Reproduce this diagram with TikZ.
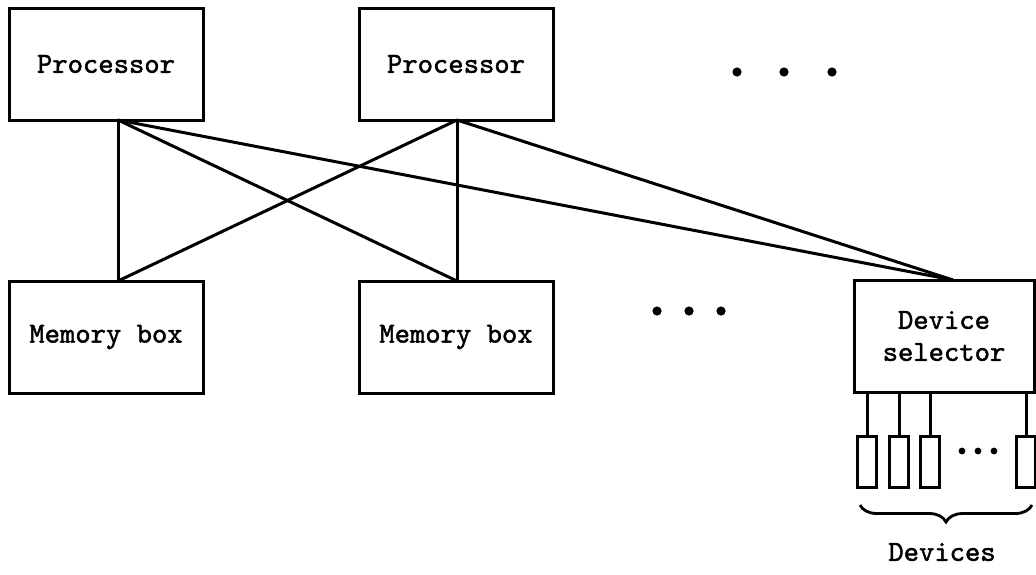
\documentclass[tikz,border=0pt]{standalone}
\usepackage{fontspec}
\newfontfamily\boxfont{lmmono10-regular}[Extension=.otf, FakeBold=1.6]
\usetikzlibrary{positioning,decorations.pathreplacing}

\begin{document}
\begin{tikzpicture}[
    x=0.5pt, y=-0.5pt,
    box/.style={rectangle, draw, line width=1.5pt, minimum width=97pt, minimum height=56pt, align=center, inner sep=0pt,
                font=\boxfont\fontsize{14.6}{16}\selectfont},
    device/.style={rectangle, draw, line width=1.4pt, minimum width=9.5pt, minimum height=25.5pt, inner sep=0pt},
    link/.style={line width=1.5pt},
    bigdot/.style={radius=2.3pt},
    smalldot/.style={radius=1.7pt}
]
\useasboundingbox (0,0) rectangle (1036,574);

% Processors
\node[box] (proc1) at (106,64) {Processor};
\node[box] (proc2) at (456,64) {Processor};

% Memory boxes
\node[box] (mem1) at (106,337) {Memory box};
\node[box] (mem2) at (456,337) {Memory box};

% Device selector
\node[box, minimum width=90pt] (sel) at (944,336) {Device\\selector};

% Devices
\node[device] (dev1) at (867,462) {};
\node[device] (dev2) at (899,462) {};
\node[device] (dev3) at (930,462) {};
\node[device] (devn) at (1026,462) {};

% Connection points
\coordinate (p1b) at (118,120);
\coordinate (p2b) at (457,120);
\coordinate (m1t) at (118,281);
\coordinate (m2t) at (457,281);
\coordinate (st) at (953,280);

% Links
\draw[link] (p1b) -- (m1t);
\draw[link] (p1b) -- (m2t);
\draw[link] (p1b) -- (st);
\draw[link] (p2b) -- (m1t);
\draw[link] (p2b) -- (m2t);
\draw[link] (p2b) -- (st);

% Device lines
\foreach \d in {dev1,dev2,dev3,devn}
    \draw[link] (\d.north) -- (\d.north |- sel.south);

% Dots
\foreach \x in {737,784,832}
    \fill (\x,72) circle[bigdot];
\foreach \x in {657,689,721}
    \fill (\x,311) circle[bigdot];
\foreach \x in {962,978,994}
    \fill (\x,451) circle[smalldot];

% Brace
\coordinate (bl) at (860,505);
\coordinate (br) at (1032,505);
\draw[line width=1.4pt, decorate, decoration={brace, mirror, amplitude=8.5pt}] (bl) -- (br);
\node[font=\boxfont\fontsize{14.6}{16}\selectfont] (devlabel) at (942,552) {Devices};

\end{tikzpicture}
\end{document}
